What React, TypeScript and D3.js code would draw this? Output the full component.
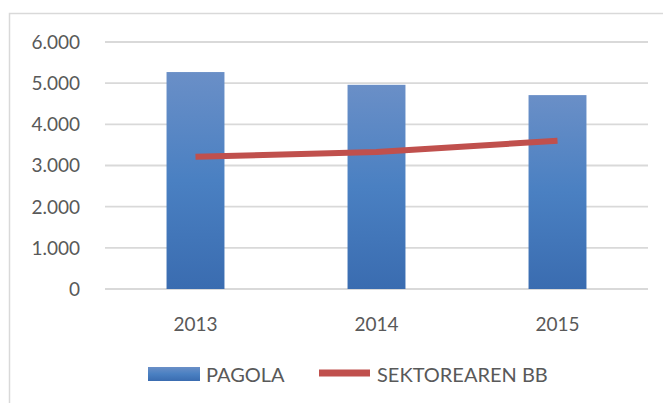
import { useEffect, useRef } from "react";
import * as d3 from "d3";

const years = ["2013", "2014", "2015"];
const pagola = [5270, 4960, 4710];
const sektorearenBB = [3210, 3330, 3600];
const yTicks = [0, 1000, 2000, 3000, 4000, 5000, 6000];
const legendLabels = ["PAGOLA", "SEKTOREAREN BB"];

const fmt = (v: number) => (v === 0 ? "0" : d3.format(",")(v).replace(/,/g, "."));

export default function App() {
  const svgRef = useRef<SVGSVGElement>(null);

  useEffect(() => {
    if (!svgRef.current) return;
    const width = 663;
    const height = 403;
    const margin = { top: 42, right: 15, bottom: 114, left: 105 };

    const svg = d3.select(svgRef.current);
    svg.selectAll("*").remove();
    svg.attr("width", width).attr("height", height);

    const defs = svg.append("defs");
    const grad = defs
      .append("linearGradient")
      .attr("id", "barGrad")
      .attr("x1", 0)
      .attr("y1", 0)
      .attr("x2", 0)
      .attr("y2", 1);
    grad.append("stop").attr("offset", "0%").attr("stop-color", "#6a8fc7");
    grad.append("stop").attr("offset", "50%").attr("stop-color", "#4a80c2");
    grad.append("stop").attr("offset", "100%").attr("stop-color", "#3a6cb0");

    // chart area frame (cut off on right and bottom)
    svg
      .append("rect")
      .attr("x", 9.5)
      .attr("y", 13.5)
      .attr("width", width + 20)
      .attr("height", height + 20)
      .style("fill", "#fff")
      .style("stroke", "#d9d9d9")
      .style("stroke-width", 1.5);

    const x = d3
      .scaleBand()
      .domain(years)
      .range([margin.left, width - margin.right]);

    const y = d3
      .scaleLinear()
      .domain([0, 6000])
      .range([height - margin.bottom, margin.top]);

    // grid lines
    svg
      .append("g")
      .selectAll("line")
      .data(yTicks)
      .enter()
      .append("line")
      .attr("x1", margin.left)
      .attr("x2", width - margin.right)
      .attr("y1", (d) => y(d))
      .attr("y2", (d) => y(d))
      .style("stroke", "#d9d9d9")
      .style("stroke-width", 1.8);

    // y labels
    svg
      .append("g")
      .selectAll("text")
      .data(yTicks)
      .enter()
      .append("text")
      .attr("x", 80)
      .attr("y", (d) => y(d))
      .attr("dy", "0.36em")
      .attr("text-anchor", "end")
      .style("fill", "#595959")
      .style("font-family", "Lato, 'Open Sans', sans-serif")
      .style("font-size", "19px")
      .text((d) => fmt(d));

    // bars
    const barW = x.bandwidth() * 0.32;
    svg
      .append("g")
      .selectAll("rect")
      .data(pagola)
      .enter()
      .append("rect")
      .attr("x", (_, i) => (x(years[i]) ?? 0) + x.bandwidth() / 2 - barW / 2)
      .attr("y", (d) => y(d))
      .attr("width", barW)
      .attr("height", (d) => y(0) - y(d))
      .style("fill", "url(#barGrad)");

    // line
    const line = d3
      .line<number>()
      .x((_, i) => (x(years[i]) ?? 0) + x.bandwidth() / 2)
      .y((d) => y(d));
    svg
      .append("path")
      .datum(sektorearenBB)
      .attr("d", line)
      .style("fill", "none")
      .style("stroke", "#c0504d")
      .style("stroke-width", 6);

    // x labels
    svg
      .append("g")
      .selectAll("text")
      .data(years)
      .enter()
      .append("text")
      .attr("x", (d) => (x(d) ?? 0) + x.bandwidth() / 2)
      .attr("y", 331)
      .attr("text-anchor", "middle")
      .style("fill", "#595959")
      .style("font-family", "Lato, 'Open Sans', sans-serif")
      .style("font-size", "19px")
      .text((d) => d);

    // legend
    const lg = svg.append("g").style("font-family", "Lato, 'Open Sans', sans-serif");
    lg.append("rect")
      .attr("x", 148)
      .attr("y", 367)
      .attr("width", 52)
      .attr("height", 14)
      .style("fill", "url(#barGrad)");
    lg.append("text")
      .attr("x", 206)
      .attr("y", 382)
      .style("fill", "#595959")
      .style("font-size", "20px")
      .text(legendLabels[0]);
    lg.append("line")
      .attr("x1", 319)
      .attr("x2", 370)
      .attr("y1", 373)
      .attr("y2", 373)
      .style("stroke", "#c0504d")
      .style("stroke-width", 7);
    lg.append("text")
      .attr("x", 377)
      .attr("y", 382)
      .style("fill", "#595959")
      .style("font-size", "20px")
      .text(legendLabels[1]);
  }, []);

  return (
    <div style={{ position: "absolute", left: 0, top: 0, width: 663, height: 403, background: "#fff", overflow: "hidden" }}>
      <svg ref={svgRef} style={{ display: "block" }} />
    </div>
  );
}
